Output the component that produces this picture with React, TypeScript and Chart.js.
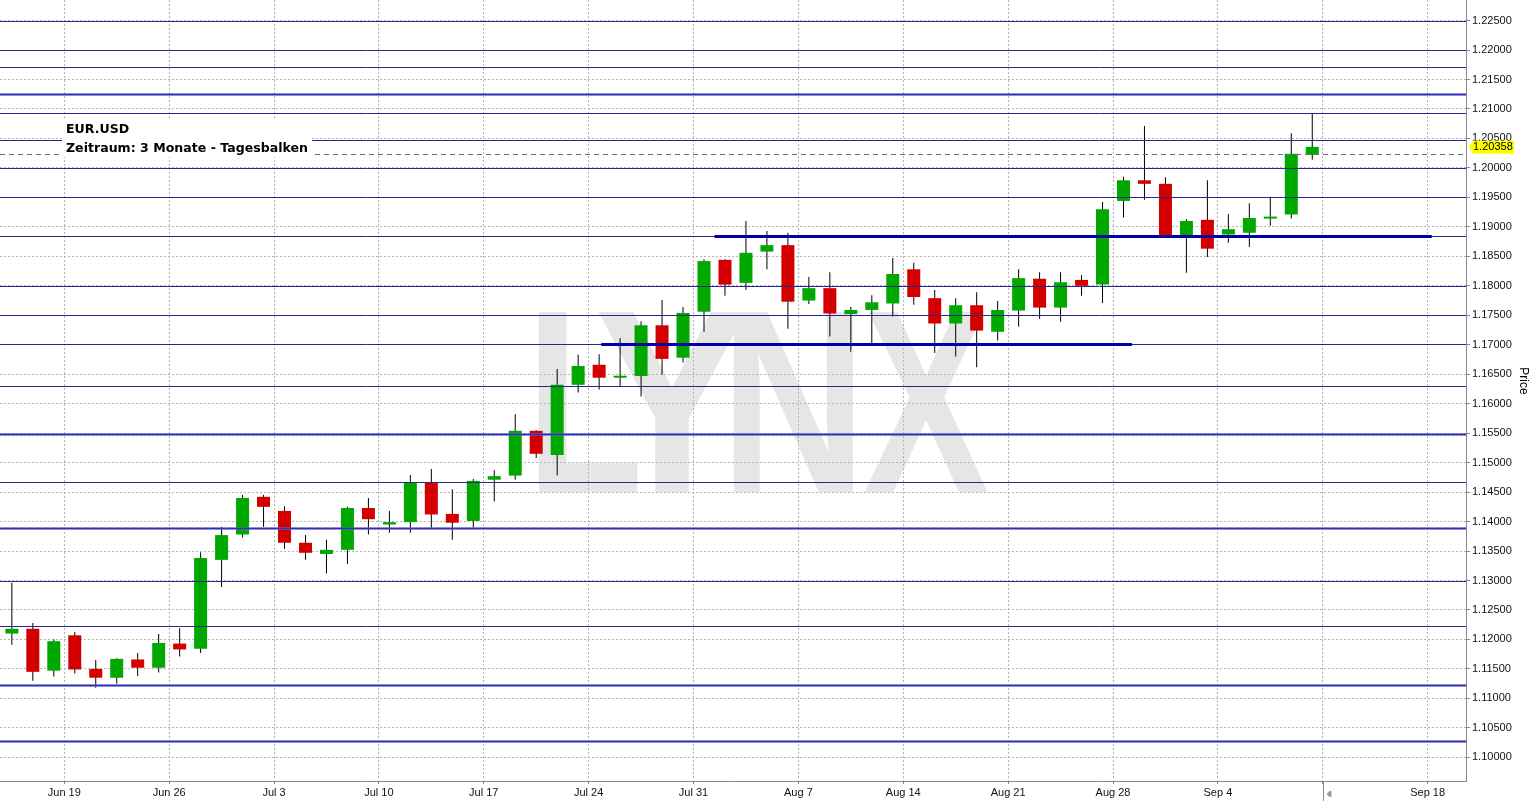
import React, { useEffect, useRef } from 'react';
import { Chart, registerables } from 'chart.js';

Chart.register(...registerables);

// ---- data (EUR/USD daily candles, Jun 14 – Sep 8) ----
const opens = [
  1.1210, 1.1218, 1.1147, 1.1207, 1.1150, 1.1135, 1.1166, 1.1152, 1.1193, 1.1184,
  1.1335, 1.1378, 1.1442, 1.1418, 1.1364, 1.1345, 1.1352, 1.1423, 1.1395, 1.1399,
  1.1467, 1.1413, 1.1401, 1.1471, 1.1478, 1.1554, 1.1513, 1.1632, 1.1666, 1.1644,
  1.1647, 1.1733, 1.1678, 1.1756, 1.1844, 1.1805, 1.1858, 1.1869, 1.1775, 1.1796,
  1.1752, 1.1759, 1.1770, 1.1828, 1.1779, 1.1736, 1.1767, 1.1722, 1.1758, 1.1812,
  1.1763, 1.1810, 1.1802, 1.1944, 1.1979, 1.1973, 1.1886, 1.1912, 1.1887, 1.1890,
  1.1914, 1.1921, 1.2022,
];
const highs = [
  1.1296, 1.1228, 1.1200, 1.1213, 1.1165, 1.1168, 1.1177, 1.1209, 1.1219, 1.1348,
  1.1391, 1.1445, 1.1445, 1.1426, 1.1377, 1.1369, 1.1425, 1.1440, 1.1418, 1.1479,
  1.1489, 1.1455, 1.1472, 1.1487, 1.1582, 1.1555, 1.1659, 1.1683, 1.1684, 1.1711,
  1.1740, 1.1776, 1.1764, 1.1845, 1.1845, 1.1910, 1.1893, 1.1890, 1.1815, 1.1823,
  1.1764, 1.1784, 1.1847, 1.1839, 1.1793, 1.1779, 1.1789, 1.1774, 1.1828, 1.1823,
  1.1823, 1.1818, 1.1942, 1.1985, 1.2071, 1.1984, 1.1913, 1.1979, 1.1922, 1.1940,
  1.1951, 1.2059, 1.2093,
];
const lows = [
  1.1191, 1.1130, 1.1137, 1.1142, 1.1118, 1.1125, 1.1138, 1.1144, 1.1171, 1.1177,
  1.1289, 1.1373, 1.1391, 1.1354, 1.1335, 1.1312, 1.1328, 1.1378, 1.1381, 1.1381,
  1.1389, 1.1369, 1.1389, 1.1434, 1.1471, 1.1508, 1.1478, 1.1619, 1.1624, 1.1629,
  1.1612, 1.1649, 1.1670, 1.1722, 1.1783, 1.1793, 1.1828, 1.1727, 1.1769, 1.1714,
  1.1688, 1.1703, 1.1748, 1.1768, 1.1686, 1.1680, 1.1662, 1.1707, 1.1731, 1.1744,
  1.1739, 1.1783, 1.1771, 1.1916, 1.1946, 1.1881, 1.1822, 1.1849, 1.1873, 1.1866,
  1.1902, 1.1914, 1.2014,
];
const closes = [
  1.1218, 1.1145, 1.1197, 1.1149, 1.1135, 1.1167, 1.1152, 1.1194, 1.1183, 1.1338,
  1.1377, 1.1440, 1.1425, 1.1364, 1.1347, 1.1352, 1.1423, 1.1404, 1.1399, 1.1467,
  1.1412, 1.1398, 1.1469, 1.1477, 1.1554, 1.1515, 1.1632, 1.1664, 1.1644, 1.1647,
  1.1733, 1.1676, 1.1754, 1.1842, 1.1802, 1.1856, 1.1869, 1.1773, 1.1796, 1.1753,
  1.1759, 1.1772, 1.1820, 1.1781, 1.1736, 1.1767, 1.1724, 1.1759, 1.1813, 1.1763,
  1.1806, 1.1800, 1.1930, 1.1979, 1.1973, 1.1886, 1.1910, 1.1863, 1.1896, 1.1915,
  1.1917, 1.2024, 1.20358,
];

// week boundaries (index units) and their labels
const weekTicks = [2.5, 7.5, 12.5, 17.5, 22.5, 27.5, 32.5, 37.5, 42.5, 47.5, 52.5, 57.5, 62.5, 67.5];
const weekLabels = ['Jun 19', 'Jun 26', 'Jul 3', 'Jul 10', 'Jul 17', 'Jul 24', 'Jul 31', 'Aug 7', 'Aug 14', 'Aug 21', 'Aug 28', 'Sep 4', '', 'Sep 18'];
const todayTick = 62.5;

const priceTicks = [
  1.100, 1.105, 1.110, 1.115, 1.120, 1.125, 1.130, 1.135, 1.140, 1.145, 1.150, 1.155, 1.160,
  1.165, 1.170, 1.175, 1.180, 1.185, 1.190, 1.195, 1.200, 1.205, 1.210, 1.215, 1.220, 1.225,
];

// horizontal support / resistance levels
const thinLevels = [1.2250, 1.2200, 1.2172, 1.2093, 1.2047, 1.2000, 1.1950, 1.1884, 1.1799, 1.1751, 1.1701, 1.1630, 1.1467, 1.1299, 1.1222];
const thickLevels = [1.2125, 1.1548, 1.1389, 1.1122, 1.1027];
const segLevels = [1.1884, 1.1701];
const segFrom = [33.5, 28.1];
const segTo = [67.7, 53.4];

const lastPrice = 1.20358;
const refPrice = 1.2023;
const titleLine1 = 'EUR.USD';
const titleLine2 = 'Zeitraum: 3 Monate - Tagesbalken';
const watermark = ['L', 'Y', 'N', 'X'];
const axisTitle = 'Price';

const X_MIN = -0.565;
const X_MAX = 69.33;
const Y_MIN = 1.09598;
const Y_MAX = 1.22849;

const GREEN = '#00a800';
const RED = '#d40000';
const FONT = '"Liberation Sans", Arial, sans-serif';
const TITLE_FONT = '"DejaVu Sans", Verdana, sans-serif';

const overlayPlugin = {
  id: 'overlay',
  beforeDraw(chart: any) {
    const { ctx } = chart;
    ctx.save();
    ctx.fillStyle = '#e6e6e6';
    ctx.font = `bold 257px ${FONT}`;
    ctx.textBaseline = 'alphabetic';
    ctx.textAlign = 'left';
    const inkLeft = [538, 598, 733, 863];
    const inkWidth = [102, 149, 120, 127];
    const baseY = 492;
    const capH = 184;
    watermark.forEach((ch, k) => {
      const m = ctx.measureText(ch);
      const w = m.actualBoundingBoxLeft + m.actualBoundingBoxRight;
      const sx = inkWidth[k] / w;
      const sy = capH / m.actualBoundingBoxAscent;
      ctx.save();
      ctx.translate(inkLeft[k] + sx * m.actualBoundingBoxLeft, baseY);
      ctx.scale(sx, sy);
      ctx.fillText(ch, 0, 0);
      ctx.restore();
    });
    ctx.restore();
  },
  afterDatasetsDraw(chart: any) {
    const { ctx, chartArea } = chart;
    const ys = chart.scales.y;
    const xs = chart.scales.x;
    const L = chartArea.left;
    const R = chartArea.right;
    ctx.save();
    ctx.beginPath();
    ctx.rect(L, chartArea.top, R - L, chartArea.bottom - chartArea.top);
    ctx.clip();

    // dashed reference line
    ctx.setLineDash([5, 4]);
    ctx.strokeStyle = '#6e6e6e';
    ctx.lineWidth = 1;
    {
      const y = Math.round(ys.getPixelForValue(refPrice)) + 0.5;
      ctx.beginPath();
      ctx.moveTo(L, y);
      ctx.lineTo(R, y);
      ctx.stroke();
    }
    ctx.setLineDash([]);

    // thin navy levels
    ctx.strokeStyle = '#26268e';
    ctx.lineWidth = 1;
    thinLevels.forEach((v) => {
      const y = Math.round(ys.getPixelForValue(v)) + 0.5;
      ctx.beginPath();
      ctx.moveTo(L, y);
      ctx.lineTo(R, y);
      ctx.stroke();
    });

    // thick lighter levels
    thickLevels.forEach((v) => {
      const y = Math.round(ys.getPixelForValue(v)) + 0.5;
      ctx.strokeStyle = 'rgba(110,110,220,0.55)';
      ctx.lineWidth = 3;
      ctx.beginPath();
      ctx.moveTo(L, y);
      ctx.lineTo(R, y);
      ctx.stroke();
      ctx.strokeStyle = '#3030b0';
      ctx.lineWidth = 1.5;
      ctx.beginPath();
      ctx.moveTo(L, y);
      ctx.lineTo(R, y);
      ctx.stroke();
    });

    // thick dark trend segments
    ctx.strokeStyle = '#0000a8';
    ctx.lineWidth = 3;
    segLevels.forEach((v, k) => {
      const y = Math.round(ys.getPixelForValue(v)) + 0.5;
      ctx.beginPath();
      ctx.moveTo(xs.getPixelForValue(segFrom[k]), y);
      ctx.lineTo(xs.getPixelForValue(segTo[k]), y);
      ctx.stroke();
    });

    // title box
    ctx.font = `bold 13px ${TITLE_FONT}`;
    const w2 = ctx.measureText(titleLine2).width;
    const sx = 242 / w2;
    ctx.fillStyle = '#ffffff';
    ctx.fillRect(62, 118, 250, 39);
    ctx.fillStyle = '#000000';
    ctx.textBaseline = 'alphabetic';
    ctx.textAlign = 'left';
    ctx.save();
    ctx.translate(66, 0);
    ctx.scale(sx, 1);
    ctx.fillText(titleLine1, 0, 133);
    ctx.fillText(titleLine2, 0, 152);
    ctx.restore();
    ctx.restore();
  },
  afterDraw(chart: any) {
    const { ctx, chartArea } = chart;
    const ys = chart.scales.y;
    const xs = chart.scales.x;
    ctx.save();

    // last price label
    const py = ys.getPixelForValue(lastPrice);
    const axX = chartArea.right;
    ctx.fillStyle = '#ffff00';
    ctx.beginPath();
    ctx.moveTo(axX + 3, py);
    ctx.lineTo(axX + 7, py - 6);
    ctx.lineTo(axX + 48, py - 6);
    ctx.lineTo(axX + 48, py + 7);
    ctx.lineTo(axX + 7, py + 7);
    ctx.closePath();
    ctx.fill();
    ctx.fillStyle = '#000';
    ctx.font = `11px ${FONT}`;
    ctx.textBaseline = 'middle';
    ctx.textAlign = 'left';
    ctx.fillText(lastPrice.toFixed(5), axX + 7, py + 0.5);

    // axis title
    ctx.save();
    ctx.translate(1523, 381);
    ctx.rotate(Math.PI / 2);
    ctx.font = `12px ${FONT}`;
    ctx.textAlign = 'center';
    ctx.textBaseline = 'middle';
    ctx.fillStyle = '#000';
    ctx.fillText(axisTitle, 0, 0);
    ctx.restore();

    // "today" marker below the axis
    const tx = Math.round(xs.getPixelForValue(todayTick)) + 0.5;
    ctx.strokeStyle = '#8a8a8a';
    ctx.lineWidth = 1;
    ctx.beginPath();
    ctx.moveTo(tx, chartArea.bottom);
    ctx.lineTo(tx, chart.height);
    ctx.stroke();
    ctx.fillStyle = '#9a9a9a';
    ctx.beginPath();
    ctx.moveTo(tx + 3, 794);
    ctx.lineTo(tx + 6, 791);
    ctx.lineTo(tx + 8, 791);
    ctx.lineTo(tx + 8, 797);
    ctx.lineTo(tx + 6, 797);
    ctx.closePath();
    ctx.fill();
    ctx.restore();
  },
};

export default function App() {
  const ref = useRef<HTMLCanvasElement>(null);

  useEffect(() => {
    document.body.style.margin = '0';
    const canvas = ref.current;
    if (!canvas) return;

    const wickData = highs.map((h, i) => ({ x: i, y: [lows[i], h] }));
    const bodyData = opens.map((o, i) => ({ x: i, y: [o, closes[i]] }));
    const bodyColors = opens.map((o, i) => (closes[i] >= o ? GREEN : RED));

    const chart = new Chart(canvas, {
      type: 'bar',
      data: {
        datasets: [
          {
            label: 'wick',
            data: wickData as any,
            backgroundColor: '#000000',
            borderWidth: 0,
            maxBarThickness: 1,
            grouped: false,
            order: 2,
          } as any,
          {
            label: 'body',
            data: bodyData as any,
            backgroundColor: bodyColors,
            borderWidth: 0,
            maxBarThickness: 13,
            minBarLength: 2,
            grouped: false,
            order: 1,
          } as any,
        ],
      },
      options: {
        responsive: false,
        maintainAspectRatio: false,
        devicePixelRatio: 1,
        animation: false,
        layout: { padding: 0 },
        font: { family: FONT, size: 11 },
        plugins: {
          legend: { display: false },
          tooltip: { enabled: false },
          title: { display: false },
        },
        scales: {
          x: {
            type: 'linear',
            position: 'bottom',
            min: X_MIN,
            max: X_MAX,
            offset: false,
            bounds: 'data',
            grid: {
              offset: false,
              color: '#b4b4b4',
              lineWidth: 1,
              drawTicks: true,
              tickLength: 3,
              tickColor: '#888888',
              tickBorderDash: [],
            },
            border: { display: true, color: '#888888', width: 1, dash: [2, 2] },
            ticks: {
              autoSkip: false,
              maxRotation: 0,
              minRotation: 0,
              padding: 2,
              color: '#111111',
              font: { family: FONT, size: 11 },
              callback: (_v: any, idx: number) => weekLabels[idx],
            },
            afterBuildTicks: (scale: any) => {
              scale.ticks = weekTicks.map((v) => ({ value: v }));
            },
            afterFit: (scale: any) => {
              scale.height = 20;
              scale.paddingLeft = 0;
              scale.paddingRight = 0;
            },
          } as any,
          y: {
            type: 'linear',
            position: 'right',
            min: Y_MIN,
            max: Y_MAX,
            beginAtZero: false,
            bounds: 'data',
            grid: {
              color: '#b4b4b4',
              lineWidth: 1,
              drawTicks: true,
              tickLength: 4,
              tickColor: '#888888',
              tickBorderDash: [],
            },
            border: { display: true, color: '#888888', width: 1, dash: [2, 2] },
            ticks: {
              padding: 2,
              color: '#111111',
              font: { family: FONT, size: 11 },
              callback: (v: any) => Number(v).toFixed(5),
            },
            afterBuildTicks: (scale: any) => {
              scale.ticks = priceTicks.map((v) => ({ value: v }));
            },
            afterFit: (scale: any) => {
              scale.width = 69;
              scale.paddingTop = 0;
              scale.paddingBottom = 0;
            },
          } as any,
        },
      },
      plugins: [overlayPlugin],
    } as any);

    return () => chart.destroy();
  }, []);

  return (
    <canvas
      ref={ref}
      width={1535}
      height={801}
      style={{ position: 'absolute', left: 0, top: 0, width: '1535px', height: '801px', display: 'block' }}
    />
  );
}
